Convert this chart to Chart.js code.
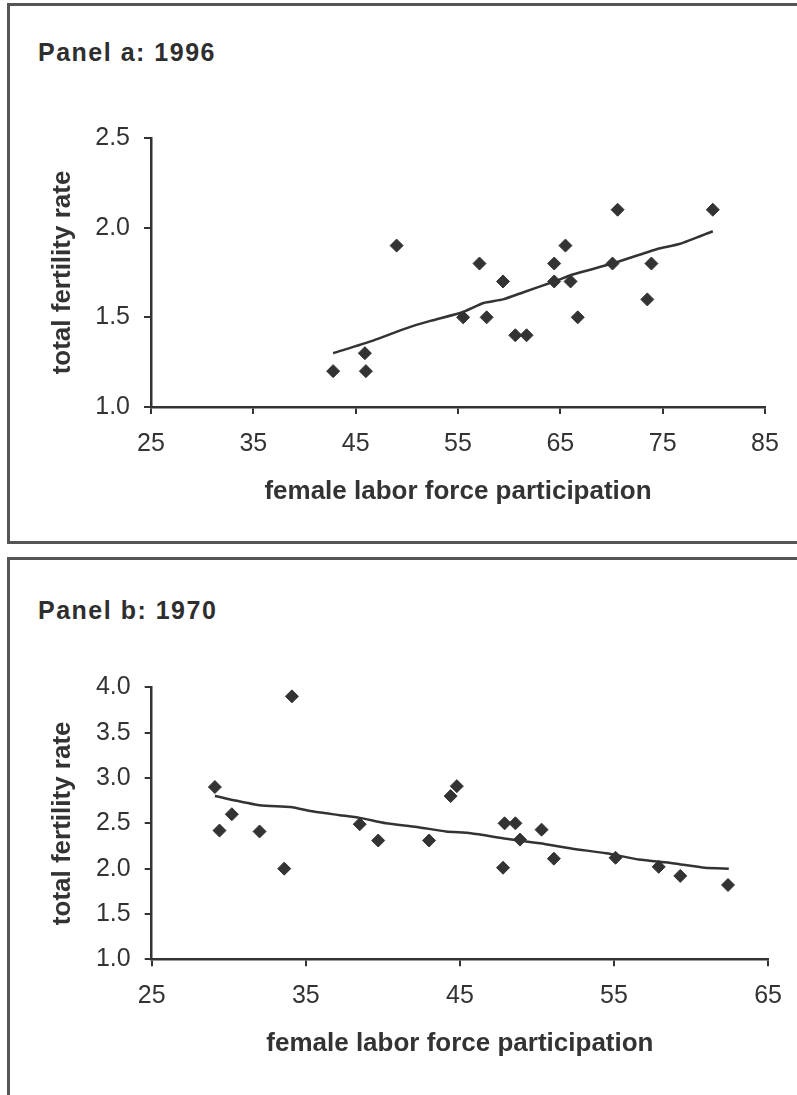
<!DOCTYPE html>
<html>
<head>
<meta charset="utf-8">
<script src="https://cdn.jsdelivr.net/npm/chart.js@4.4.1/dist/chart.umd.min.js"></script>
<style>
  html, body { margin: 0; padding: 0; background: #fff; }
  body { width: 797px; height: 1095px; position: relative; overflow: hidden; }
  .frame { position: absolute; box-sizing: border-box; border: 3px solid #555; border-right: none; }
  .panel-title { position: absolute; left: 38px; font: bold 25px "Liberation Sans", Arial, sans-serif; letter-spacing: 1.5px; color: #2e2e2e; line-height: 26px; white-space: nowrap; }
  canvas { position: absolute; left: 0; display: block; }
</style>
</head>
<body>
<div class="frame" style="left:7px; top:3px; width:820px; height:541px;"></div>
<div class="frame" style="left:7px; top:557px; width:820px; height:600px; border-bottom:none;"></div>
<div class="panel-title" style="top:39px;">Panel a: 1996</div>
<div class="panel-title" style="top:597px;">Panel b: 1970</div>
<canvas id="chart96" width="797" height="541" style="top:0; width:797px; height:541px;"></canvas>
<canvas id="chart70" width="797" height="545" style="top:550px; width:797px; height:545px;"></canvas>

<script>
// Panel a: 1996
const lfp1996 = [42.8, 45.9, 46.0, 49.0, 55.5, 57.1, 57.8, 59.4, 60.6, 61.7, 64.4, 64.4, 65.5, 66.0, 66.7, 70.1, 70.6, 73.5, 73.9, 79.9];
const tfr1996 = [1.2, 1.3, 1.2, 1.9, 1.5, 1.8, 1.5, 1.7, 1.4, 1.4, 1.8, 1.7, 1.9, 1.7, 1.5, 1.8, 2.1, 1.6, 1.8, 2.1];
const fitLfp1996 = [42.8, 46.7, 50.0, 52.3, 55.5, 57.5, 59.4, 61.4, 64.4, 66.3, 70.1, 74.4, 76.7, 79.9];
const fitTfr1996 = [1.30, 1.37, 1.44, 1.48, 1.53, 1.58, 1.60, 1.64, 1.70, 1.74, 1.80, 1.88, 1.91, 1.98];
const xTicks1996 = [25, 35, 45, 55, 65, 75, 85];
const yTicks1996 = [1.0, 1.5, 2.0, 2.5];

// Panel b: 1970
const lfp1970 = [29.1, 29.4, 30.2, 32.0, 33.6, 34.1, 38.5, 39.7, 43.0, 44.4, 44.8, 47.8, 47.9, 48.6, 48.9, 50.3, 51.1, 55.1, 57.9, 59.3, 62.4];
const tfr1970 = [2.90, 2.42, 2.60, 2.41, 2.00, 3.90, 2.49, 2.31, 2.31, 2.80, 2.91, 2.01, 2.50, 2.50, 2.32, 2.43, 2.11, 2.12, 2.02, 1.92, 1.82];
const fitLfp1970 = [29.1, 32.0, 34.0, 35.5, 37.2, 38.5, 40.2, 42.2, 44.1, 45.7, 48.0, 50.2, 52.3, 54.5, 56.6, 58.8, 60.9, 62.45];
const fitTfr1970 = [2.80, 2.70, 2.68, 2.63, 2.59, 2.56, 2.50, 2.46, 2.41, 2.39, 2.33, 2.28, 2.22, 2.17, 2.10, 2.06, 2.01, 2.00];
const xTicks1970 = [25, 35, 45, 55, 65];
const yTicks1970 = [1.0, 1.5, 2.0, 2.5, 3.0, 3.5, 4.0];

const INK = '#333333';
const FONT = '"Liberation Sans", Arial, sans-serif';
Chart.defaults.font.family = FONT;
Chart.defaults.color = INK;

function toPoints(xs, ys) {
    return xs.map((x, i) => ({ x: x, y: ys[i] }));
}

function configureChart(id, xs, ys, fitXs, fitYs, xTicks, yTicks, box) {
    const ctx = document.getElementById(id).getContext('2d');
    return new Chart(ctx, {
        type: 'scatter',
        data: {
            datasets: [
                {
                    label: 'countries',
                    data: toPoints(xs, ys),
                    pointStyle: 'rectRot',
                    pointRadius: 6.5,
                    backgroundColor: INK,
                    borderColor: INK,
                    borderWidth: 1
                },
                {
                    label: 'fitted',
                    data: toPoints(fitXs, fitYs),
                    showLine: true,
                    pointRadius: 0,
                    borderColor: INK,
                    borderWidth: 2.5,
                    tension: 0.2,
                    fill: false
                }
            ]
        },
        options: {
            responsive: false,
            animation: false,
            layout: {
                padding: { left: 0, top: box.top, right: box.right, bottom: box.bottom }
            },
            plugins: {
                legend: { display: false },
                tooltip: { enabled: false }
            },
            scales: {
                x: {
                    type: 'linear',
                    min: xTicks[0],
                    max: xTicks[xTicks.length - 1],
                    afterBuildTicks: (scale) => { scale.ticks = xTicks.map(v => ({ value: v })); },
                    afterFit: (scale) => { scale.height = 130; },
                    grid: { drawOnChartArea: false, drawTicks: true, tickLength: 7, color: INK, lineWidth: 2 },
                    border: { display: true, color: INK, width: 2.5 },
                    ticks: { color: INK, padding: 15, font: { size: 25 } },
                    title: {
                        display: true,
                        text: 'female labor force participation',
                        color: INK,
                        font: { size: 26, weight: 'bold' },
                        padding: { top: 0, bottom: 29.5 }
                    }
                },
                y: {
                    type: 'linear',
                    min: yTicks[0],
                    max: yTicks[yTicks.length - 1],
                    afterBuildTicks: (scale) => { scale.ticks = yTicks.map(v => ({ value: v })); },
                    afterFit: (scale) => { scale.width = box.left; },
                    grid: { drawOnChartArea: false, drawTicks: true, tickLength: 7, color: INK, lineWidth: 2 },
                    border: { display: true, color: INK, width: 2.5 },
                    ticks: {
                        color: INK,
                        padding: 14,
                        font: { size: 25 },
                        callback: (v) => Number(v).toFixed(1)
                    },
                    title: {
                        display: true,
                        text: 'total fertility rate',
                        color: INK,
                        font: { size: 26, weight: 'bold' },
                        padding: { top: 47, bottom: 0 }
                    }
                }
            }
        }
    });
}

configureChart('chart96', lfp1996, tfr1996, fitLfp1996, fitTfr1996, xTicks1996, yTicks1996,
    { left: 151, top: 138, right: 32, bottom: 4 });
configureChart('chart70', lfp1970, tfr1970, fitLfp1970, fitTfr1970, xTicks1970, yTicks1970,
    { left: 151.7, top: 137.3, right: 27.7, bottom: 5.7 });
</script>
</body>
</html>
